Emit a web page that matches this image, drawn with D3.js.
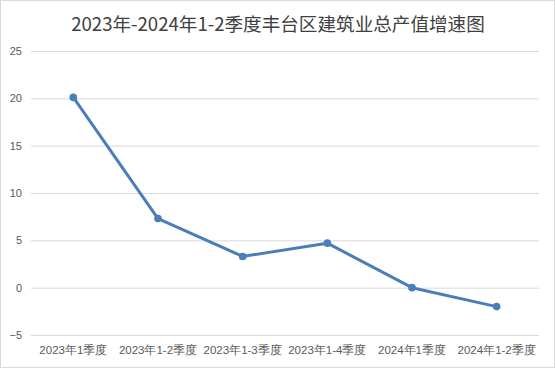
<!DOCTYPE html>
<html>
<head>
<meta charset="utf-8">
<script src="https://cdn.jsdelivr.net/npm/d3@7"></script>
<style>
  body { margin: 0; background: #fff; }
  svg { display: block; font-family: "Noto Sans CJK SC", "Noto Sans", sans-serif; }
</style>
</head>
<body>
<svg id="chart" width="555" height="368"></svg>
<script>
var categories = ["2023年1季度", "2023年1-2季度", "2023年1-3季度", "2023年1-4季度", "2024年1季度", "2024年1-2季度"];
var growth = [20.1, 7.3, 3.3, 4.7, 0.0, -2.0];
var yTicks = [-5, 0, 5, 10, 15, 20, 25];
var title = "2023年-2024年1-2季度丰台区建筑业总产值增速图";

var margin = {top: 51, right: 16, bottom: 33, left: 31},
    width = 555 - margin.left - margin.right,
    height = 368 - margin.top - margin.bottom;

var svg = d3.select("#chart");

// outer border
svg.append("rect")
    .attr("x", 0.5).attr("y", 0.5)
    .attr("width", 554).attr("height", 367)
    .attr("fill", "#fff")
    .attr("stroke", "#d9d9d9");

svg.append("text")
    .attr("x", 278)
    .attr("y", 31)
    .attr("text-anchor", "middle")
    .attr("fill", "#404040")
    .style("font-size", "18.6px")
    .text(title);

var g = svg.append("g")
    .attr("transform", "translate(" + margin.left + "," + margin.top + ")");

var x = d3.scaleBand()
    .domain(categories)
    .range([0, width]);

var y = d3.scaleLinear()
    .domain([-5, 25])
    .range([height, 0]);

var yAxis = d3.axisLeft(y)
    .tickValues(yTicks)
    .tickSize(-width)
    .tickPadding(9);

g.append("g")
    .attr("class", "y axis")
    .call(yAxis)
    .call(function(s) {
      s.select(".domain").remove();
      s.selectAll(".tick line").attr("stroke", "#d9d9d9");
      s.selectAll(".tick text")
        .attr("fill", "#595959")
        .style("font-size", "11px")
        .style("font-family", "'Liberation Sans', sans-serif");
    });

var xAxis = d3.axisBottom(x)
    .tickSize(0)
    .tickPadding(11);

g.append("g")
    .attr("class", "x axis")
    .attr("transform", "translate(0," + height + ")")
    .call(xAxis)
    .call(function(s) {
      s.select(".domain").remove();
      s.selectAll(".tick text")
        .attr("fill", "#595959")
        .style("font-size", "11.5px");
    });

var data = categories.map(function(c, i) { return {cat: c, value: growth[i]}; });

var line = d3.line()
    .x(function(d) { return x(d.cat) + x.bandwidth() / 2; })
    .y(function(d) { return y(d.value); });

g.append("path")
    .datum(data)
    .attr("fill", "none")
    .attr("stroke", "#4a7ebb")
    .attr("stroke-width", 3)
    .attr("stroke-linejoin", "round")
    .attr("d", line);

g.selectAll(".dot")
    .data(data)
  .enter().append("circle")
    .attr("class", "dot")
    .attr("cx", function(d) { return x(d.cat) + x.bandwidth() / 2; })
    .attr("cy", function(d) { return y(d.value); })
    .attr("r", 3.8)
    .attr("fill", "#4a7ebb");
</script>
</body>
</html>
